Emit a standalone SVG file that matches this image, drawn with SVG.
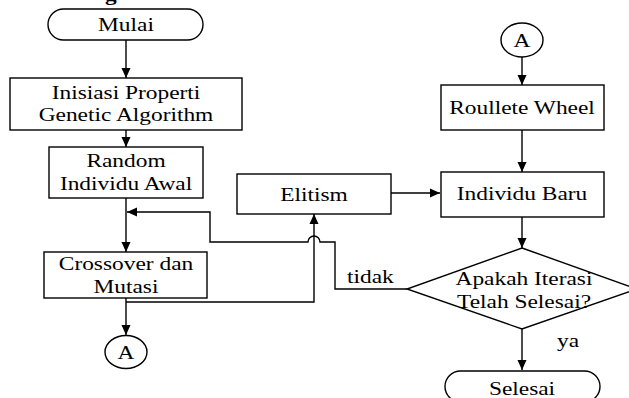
<svg xmlns="http://www.w3.org/2000/svg" width="629" height="398" viewBox="0 0 629 398">
  <defs>
    <marker id="arrow" markerUnits="userSpaceOnUse" markerWidth="10" markerHeight="10" refX="10" refY="5" orient="auto">
      <path d="M0,0.5 L10,5 L0,9.5 z" fill="#000"/>
    </marker>
    <style>
      .shape { fill: #fff; stroke: #000; stroke-width: 1.4; }
      .link { fill: none; stroke: #000; stroke-width: 1.4; }
      .arr { marker-end: url(#arrow); }
      .t { font-family: "Liberation Serif", "Times New Roman", serif; font-size: 19.5px; text-anchor: middle; fill: #000; }
      .lbl { font-family: "Liberation Serif", "Times New Roman", serif; font-size: 19.5px; fill: #000; }
    </style>
  </defs>

  <rect width="629" height="398" fill="#fff"/>

  <!-- heading fragment above the chart -->
  <text class="lbl" transform="matrix(1.2 0 0 1 105 0.5)" font-weight="bold">g</text>

  <!-- connectors -->
  <g id="connectors">
    <path class="link arr" d="M126 40 V78"/>
    <path class="link arr" d="M126 130 V147"/>
    <path class="link arr" d="M126 198 V252"/>
    <path class="link arr" d="M126 298 V335"/>
    <path class="link arr" d="M126 302 H314 V214"/>
    <path class="link arr" d="M407 289 H335 V242 H320 A6 6 0 0 0 308 242 H210 V212 H127"/>
    <path class="link arr" d="M391 193 H440"/>
    <path class="link arr" d="M522 57 V85"/>
    <path class="link arr" d="M522 130 V172"/>
    <path class="link arr" d="M522 217 V248"/>
    <path class="link arr" d="M522 329 V370"/>
    <text class="lbl" transform="matrix(1.2 0 0 1 347 283)">tidak</text>
    <text class="lbl" transform="matrix(1.2 0 0 1 557 347)">ya</text>
  </g>

  <g id="mulai">
    <rect class="shape" x="48" y="9" width="155" height="31" rx="15.5" ry="15.5"/>
    <text class="t" transform="matrix(1.2 0 0 1 126 31)">Mulai</text>
  </g>

  <g id="inisiasi">
    <rect class="shape" x="10" y="78" width="232" height="52"/>
    <text class="t" transform="matrix(1.2 0 0 1 126 99)">Inisiasi Properti</text>
    <text class="t" transform="matrix(1.2 0 0 1 126 121)">Genetic Algorithm</text>
  </g>

  <g id="random">
    <rect class="shape" x="49" y="147" width="154" height="51"/>
    <text class="t" transform="matrix(1.2 0 0 1 126 167)">Random</text>
    <text class="t" transform="matrix(1.2 0 0 1 126 190)">Individu Awal</text>
  </g>

  <g id="crossover">
    <rect class="shape" x="44" y="252" width="163" height="46"/>
    <text class="t" transform="matrix(1.2 0 0 1 126 270)">Crossover dan</text>
    <text class="t" transform="matrix(1.2 0 0 1 126 293)">Mutasi</text>
  </g>

  <g id="connector-a-out">
    <ellipse class="shape" cx="126" cy="352" rx="21" ry="16.5"/>
    <text class="t" transform="matrix(1.2 0 0 1 126 359)">A</text>
  </g>

  <g id="elitism">
    <rect class="shape" x="237" y="174" width="154" height="40"/>
    <text class="t" transform="matrix(1.2 0 0 1 314 201)">Elitism</text>
  </g>

  <g id="connector-a-in">
    <ellipse class="shape" cx="522" cy="40" rx="21" ry="17"/>
    <text class="t" transform="matrix(1.2 0 0 1 522 47)">A</text>
  </g>

  <g id="roulette">
    <rect class="shape" x="441" y="85" width="163" height="45"/>
    <text class="t" transform="matrix(1.2 0 0 1 522 114)">Roullete Wheel</text>
  </g>

  <g id="individu-baru">
    <rect class="shape" x="441" y="172" width="163" height="45"/>
    <text class="t" transform="matrix(1.2 0 0 1 522 200)">Individu Baru</text>
  </g>

  <g id="cek-iterasi">
    <polygon class="shape" points="522,248 637,289 522,329 407,289"/>
    <text class="t" transform="matrix(1.2 0 0 1 524 285)">Apakah Iterasi</text>
    <text class="t" transform="matrix(1.2 0 0 1 524 308)">Telah Selesai?</text>
  </g>

  <g id="selesai">
    <rect class="shape" x="445" y="371" width="155" height="31" rx="15.5" ry="15.5"/>
    <text class="t" transform="matrix(1.2 0 0 1 522 395)">Selesai</text>
  </g>
</svg>
